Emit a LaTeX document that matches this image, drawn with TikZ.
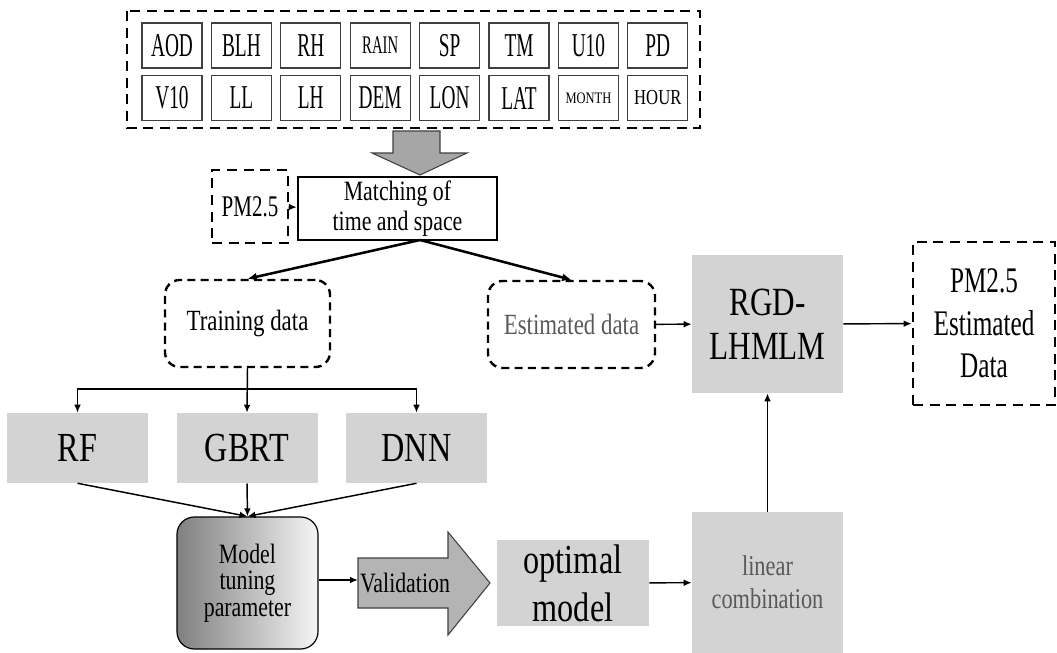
\documentclass[tikz,border=0pt]{standalone}
\usepackage{fontspec}
\setmainfont{Liberation Serif}
\newfontfamily\slimfont[FakeStretch=0.58]{Liberation Serif}
\newfontfamily\midfont[FakeStretch=0.7]{Liberation Serif}
\newfontfamily\widefont[FakeStretch=0.78]{Liberation Serif}
\usetikzlibrary{arrows.meta}
\definecolor{boxgray}{HTML}{D3D3D3}
\definecolor{framegray}{HTML}{404040}
\definecolor{textgray}{HTML}{595959}
\definecolor{arrowgray}{HTML}{A6A6A6}
\definecolor{validgray}{HTML}{B4B4B4}
\definecolor{shadegray}{HTML}{808080}
\newcommand\rainsize{\fontsize{19pt}{21pt}\selectfont}
\newcommand\monthsize{\widefont\fontsize{12pt}{14pt}\selectfont}
\newcommand\hoursize{\widefont\fontsize{16pt}{18pt}\selectfont}
\tikzset{
  varbox/.style={draw=framegray, line width=0.8pt, minimum width=45pt, minimum height=33.75pt,
    inner sep=0pt, font=\slimfont\fontsize{25pt}{28pt}\selectfont},
  dashbox/.style={draw, line width=2.2pt, dash pattern=on 7.5pt off 5pt},
  roundbox/.style={draw, line width=1.8pt, dash pattern=on 6pt off 4pt, rounded corners=11pt,
    font=\widefont\fontsize{22pt}{25pt}\selectfont},
  graybox/.style={fill=boxgray, inner sep=0pt, align=center},
  conn/.style={line width=1.1pt, -{Latex[length=6pt,width=5pt]}},
  thickconn/.style={line width=1.9pt, -{Latex[length=7pt,width=6pt]}},
}

\begin{document}
\begin{tikzpicture}[x=0.75pt, y=-0.75pt]
\useasboundingbox (0,0) rectangle (1057,653);

% input variables
\draw[dashbox] (127,11) rectangle (700,128);
\foreach \lab [count=\i from 0] in {AOD,BLH,RH,{\rainsize RAIN},SP,TM,U10,PD}
  \node[varbox] (a\i) at ({172+69.4*\i},45.5) {\lab};
\foreach \lab [count=\i from 0] in {V10,LL,LH,DEM,LON,LAT,{\monthsize MONTH},{\hoursize HOUR}}
  \node[varbox] (b\i) at ({172+69.4*\i},98) {\lab};
\fill[arrowgray, draw=framegray, line width=0.8pt]
  (393,131) -- (440,131) -- (440,153) -- (467,153) -- (420,175) -- (372,153) -- (393,153) -- cycle;

% matching
\node[dashbox, minimum width=57pt, minimum height=54.75pt, inner sep=0pt,
  font=\midfont\fontsize{22.5pt}{25pt}\selectfont] (pm) at (250,206.5) {PM2.5};
\node[draw, line width=1.9pt, minimum width=149.25pt, minimum height=47.25pt, inner sep=0pt,
  align=center, font=\widefont\fontsize{21pt}{23pt}\selectfont] (match) at (397.5,208.5)
  {Matching of\\time and space};
\draw[conn] (pm) -- (match);
\coordinate (msplit) at (420,240);
\node[roundbox, minimum width=123.75pt, minimum height=65.25pt] (train) at (247.5,323.5) {Training data};
\node[roundbox, text=textgray, minimum width=125.25pt, minimum height=65.25pt] (est) at (571.5,324.5) {Estimated data};
\draw[thickconn] (msplit) -- (train.north);
\draw[thickconn] (msplit) -- (est.north);

% models
\node[graybox, minimum width=105.75pt, minimum height=52.5pt,
  font=\widefont\fontsize{31pt}{34pt}\selectfont] (rf) at (77.5,448) {RF};
\node[graybox, minimum width=105.75pt, minimum height=52.5pt,
  font=\widefont\fontsize{31pt}{34pt}\selectfont] (gbrt) at (247,448) {GBRT};
\node[graybox, minimum width=105.75pt, minimum height=52.5pt,
  font=\widefont\fontsize{31pt}{34pt}\selectfont] (dnn) at (416.5,448) {DNN};
\coordinate (tsplit) at (247,389);
\draw[conn] (train.south) -- (gbrt.north);
\draw[conn] (tsplit) -| (rf.north);
\draw[conn] (tsplit) -| (dnn.north);

% tuning and validation
\node[draw, line width=0.9pt, rounded corners=13pt, left color=shadegray, right color=white!96!black,
  minimum width=105.75pt, minimum height=99pt, inner sep=0pt, align=center,
  font=\widefont\fontsize{21pt}{20pt}\selectfont] (tune) at (247.5,583) {Model\\tuning\\parameter};
\draw[conn] (rf.south) -- (tune.north);
\draw[conn] (gbrt.south) -- (tune.north);
\draw[conn] (dnn.south) -- (tune.north);
\fill[validgray, draw=framegray, line width=0.8pt]
  (358,558) -- (448,558) -- (448,532) -- (490,583) -- (448,635) -- (448,608) -- (358,608) -- cycle;
\node[font=\widefont\fontsize{21pt}{23pt}\selectfont] (valid) at (405,583) {Validation};
\coordinate (vtail) at (358,580);
\draw[conn] (tune.east |- vtail) -- (vtail);
\node[graybox, minimum width=114pt, minimum height=64.5pt,
  font=\widefont\fontsize{31pt}{36pt}\selectfont] (opt) at (573,583) {optimal\\model};

% combination and output
\node[graybox, text=textgray, minimum width=113.25pt, minimum height=105.75pt,
  font=\widefont\fontsize{21.5pt}{25pt}\selectfont] (lin) at (767.5,582.5) {linear\\combination};
\node[graybox, minimum width=113.25pt, minimum height=103.5pt,
  font=\widefont\fontsize{30pt}{33pt}\selectfont] (rgd) at (767.5,324) {RGD-\\LHMLM};
\node[dashbox, line width=1.9pt, minimum width=106.5pt, minimum height=122.25pt, inner sep=0pt,
  align=center, font=\midfont\fontsize{27pt}{32pt}\selectfont] (pmest) at (984,323.5)
  {PM2.5\\Estimated\\Data};
\draw[conn] (opt) -- (lin);
\draw[conn] (lin) -- (rgd);
\draw[conn] (est) -- (rgd);
\draw[conn] (rgd) -- (pmest);
\end{tikzpicture}
\end{document}
